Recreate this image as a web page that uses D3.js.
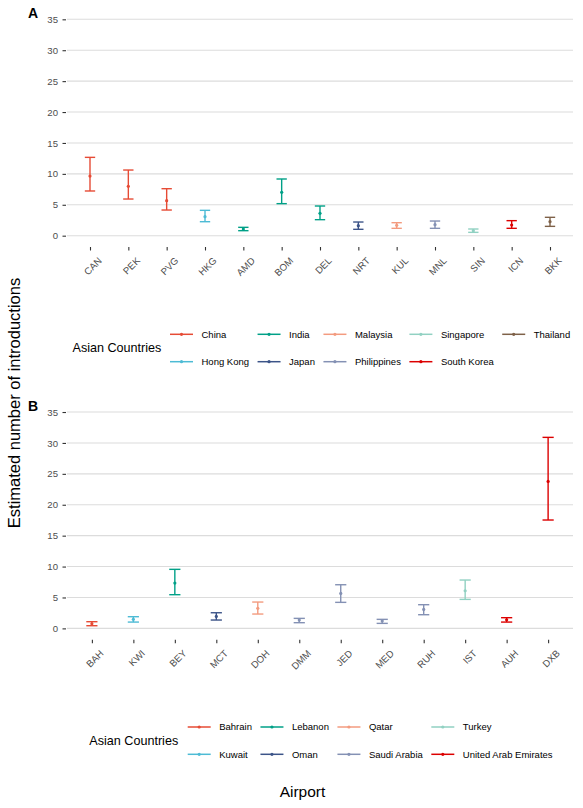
<!DOCTYPE html>
<html><head><meta charset="utf-8">
<script src="https://cdn.jsdelivr.net/npm/d3@7"></script>
<style>body{margin:0;background:#fff}svg{display:block;font-family:"Liberation Sans",Arial,sans-serif}</style>
</head><body><svg id="c" width="583" height="808"></svg>
<script>
// Panel A data
const airportsA = ["CAN","PEK","PVG","HKG","AMD","BOM","DEL","NRT","KUL","MNL","SIN","ICN","BKK"];
const countryA  = ["China","China","China","Hong Kong","India","India","India","Japan","Malaysia","Philippines","Singapore","South Korea","Thailand"];
const meanA  = [9.65, 7.98, 5.66, 3.07, 1.08, 7.01, 3.61, 1.62, 1.67, 1.78, 0.81, 1.73, 2.26];
const lowA   = [7.23, 5.93, 4.15, 2.26, 0.81, 5.18, 2.59, 1.03, 1.19, 1.19, 0.54, 1.19, 1.51];
const highA  = [12.67, 10.62, 7.60, 4.10, 1.35, 9.17, 4.80, 2.21, 2.10, 2.37, 1.08, 2.43, 2.97];
const legendA = ["China","Hong Kong","India","Japan","Malaysia","Philippines","Singapore","South Korea","Thailand"];

// Panel B data
const airportsB = ["BAH","KWI","BEY","MCT","DOH","DMM","JED","MED","RUH","IST","AUH","DXB"];
const countryB  = ["Bahrain","Kuwait","Lebanon","Oman","Qatar","Saudi Arabia","Saudi Arabia","Saudi Arabia","Saudi Arabia","Turkey","United Arab Emirates","United Arab Emirates"];
const meanB  = [0.75, 1.46, 7.33, 1.94, 3.24, 1.35, 5.66, 1.20, 3.07, 6.09, 1.40, 23.78];
const lowB   = [0.43, 1.02, 5.45, 1.35, 2.32, 0.92, 4.21, 0.81, 2.21, 4.69, 1.02, 17.53];
const highB  = [1.08, 1.89, 9.55, 2.53, 4.26, 1.62, 7.06, 1.46, 3.83, 7.82, 1.73, 30.90];
const legendB = ["Bahrain","Kuwait","Lebanon","Oman","Qatar","Saudi Arabia","Turkey","United Arab Emirates"];

const yTicks = [0,5,10,15,20,25,30,35];
const palette = ["#E64B35","#4DBBD5","#00A087","#3C5488","#F39B7F","#8491B4","#91D1C2","#DC0000","#7E6148"];

const svg = d3.select("#c");

function panel(cfg){
  const {airports, country, mean, low, high, legend, yTop, yBot, letter, letterY, legTitleX, legTitleY, legKeyX, legRows} = cfg;
  const color = d3.scaleOrdinal().domain(legend).range(palette);
  const x = d3.scalePoint().domain(airports).range([67,573]).padding(0.6);
  const y = d3.scaleLinear().domain([-1.75,36.75]).range([yBot,yTop]);
  const g = svg.append("g");
  // gridlines
  g.selectAll(".grid").data(yTicks).join("line")
    .attr("x1",67).attr("x2",573).attr("y1",d=>y(d)).attr("y2",d=>y(d))
    .attr("stroke","#DCDCDC").attr("stroke-width",1.1);
  // y axis
  const ya = g.append("g").attr("transform","translate(66,0)")
    .call(d3.axisLeft(y).tickValues(yTicks).tickSize(3.5).tickPadding(4.5));
  ya.select(".domain").remove();
  ya.selectAll(".tick line").attr("stroke","#333").attr("stroke-width",1.1);
  ya.selectAll(".tick text").attr("fill","#4D4D4D").attr("font-size","9.6px").attr("font-family","Liberation Sans, Arial, sans-serif");
  // x axis
  const xa = g.append("g").attr("transform",`translate(0,${yBot})`)
    .call(d3.axisBottom(x).tickSize(4).tickPadding(0));
  xa.select(".domain").remove();
  xa.selectAll(".tick line").attr("stroke","#333").attr("stroke-width",1.1).attr("y1",0.5);
  xa.selectAll(".tick text").attr("fill","#4D4D4D").attr("font-size","9.6px")
    .attr("font-family","Liberation Sans, Arial, sans-serif")
    .attr("text-anchor","end").attr("dy","0.71em").attr("y",0)
    .attr("transform","translate(7,10) rotate(-45)");
  // error bars
  const step = x.step(), cw = step*0.135;
  const eb = g.selectAll(".eb").data(airports).join("g");
  eb.append("line").attr("x1",(d)=>x(d)).attr("x2",d=>x(d))
    .attr("y1",(d,i)=>y(low[i])).attr("y2",(d,i)=>y(high[i]))
    .attr("stroke",(d,i)=>color(country[i])).attr("stroke-width",1.4);
  eb.append("line").attr("x1",d=>x(d)-cw).attr("x2",d=>x(d)+cw)
    .attr("y1",(d,i)=>y(high[i])).attr("y2",(d,i)=>y(high[i]))
    .attr("stroke",(d,i)=>color(country[i])).attr("stroke-width",1.4);
  eb.append("line").attr("x1",d=>x(d)-cw).attr("x2",d=>x(d)+cw)
    .attr("y1",(d,i)=>y(low[i])).attr("y2",(d,i)=>y(low[i]))
    .attr("stroke",(d,i)=>color(country[i])).attr("stroke-width",1.4);
  eb.append("circle").attr("cx",d=>x(d)).attr("cy",(d,i)=>y(mean[i])).attr("r",1.6)
    .attr("fill",(d,i)=>color(country[i]));
  // panel letter
  svg.append("text").attr("x",28).attr("y",letterY).attr("font-weight","bold").attr("font-size","14px").text(letter);
  // legend
  svg.append("text").attr("x",legTitleX).attr("y",legTitleY).attr("dy","0.35em").attr("font-size","12.6px").text("Asian Countries");
  const ncol = Math.ceil(legend.length/2);
  let kx = legKeyX;
  for(let c=0;c<ncol;c++){
    let maxW = 0;
    for(let r=0;r<2;r++){
      const idx = c*2+r; if(idx>=legend.length) continue;
      const name = legend[idx], ly = legRows[r];
      svg.append("line").attr("x1",kx).attr("x2",kx+23).attr("y1",ly).attr("y2",ly)
        .attr("stroke",color(name)).attr("stroke-width",1.5);
      svg.append("circle").attr("cx",kx+11.5).attr("cy",ly).attr("r",1.6).attr("fill",color(name));
      const t = svg.append("text").attr("x",kx+31.5).attr("y",ly).attr("dy","0.35em").attr("font-size","9.5px").text(name);
      maxW = Math.max(maxW, t.node().getComputedTextLength());
    }
    kx = kx + 31.5 + maxW + 8.5;
  }
}

panel({airports:airportsA,country:countryA,mean:meanA,low:lowA,high:highA,legend:legendA,
  yTop:8.5,yBot:246.5,letter:"A",letterY:18,legTitleX:72.5,legTitleY:348,legKeyX:170,legRows:[334.3,361.7]});
panel({airports:airportsB,country:countryB,mean:meanB,low:lowB,high:highB,legend:legendB,
  yTop:401.2,yBot:639.2,letter:"B",letterY:411,legTitleX:89.3,legTitleY:740.7,legKeyX:187.7,legRows:[727,754.3]});

svg.append("text").attr("transform","translate(20,403) rotate(-90)").attr("text-anchor","middle")
  .attr("font-size","16.5px").text("Estimated number of introductions");
svg.append("text").attr("x",302.5).attr("y",797).attr("text-anchor","middle")
  .attr("font-size","15.5px").text("Airport");
</script></body></html>
